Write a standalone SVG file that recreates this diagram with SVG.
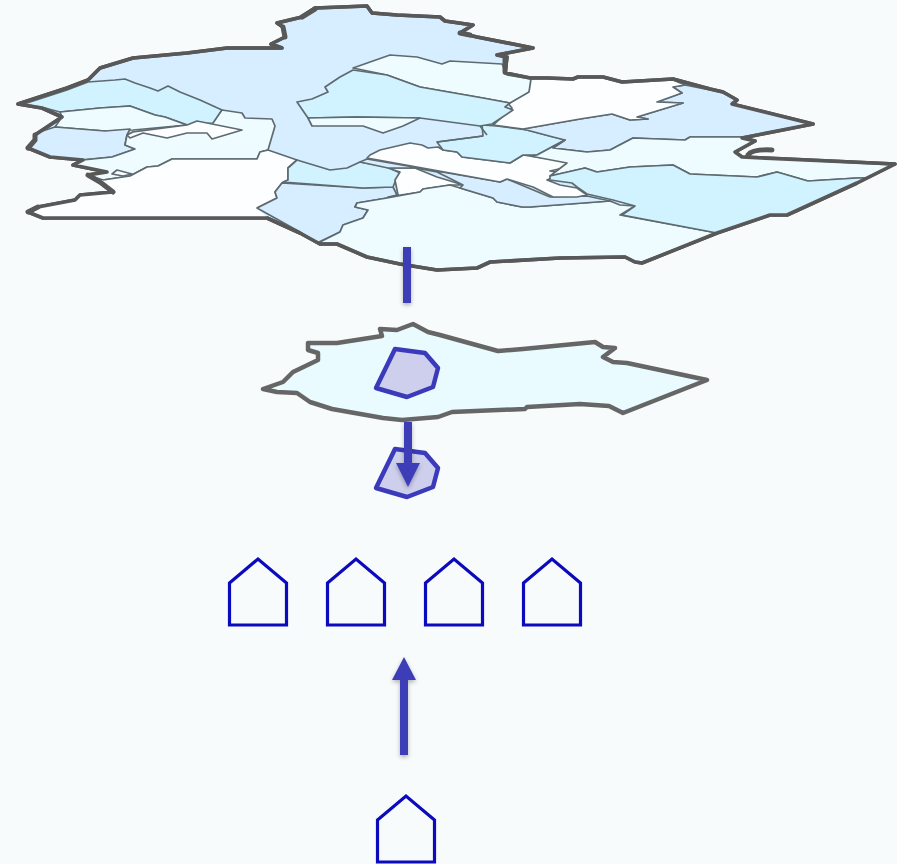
<svg xmlns="http://www.w3.org/2000/svg" width="897" height="864" viewBox="0 0 897 864">
<style>
.o{fill:#d6eeff;stroke:#585858;stroke-width:3.600;stroke-linejoin:round}
.r{stroke:#5e6b70;stroke-width:1.700;stroke-linejoin:round}
.b{fill:#d6eeff}.l{fill:#d0f3ff}.p{fill:#eefcff}.w{fill:#fdfeff}
.t{fill:none;stroke:#585858;stroke-linejoin:round;stroke-linecap:round}
.z{fill:#cdcfec;stroke:#3a3abb;stroke-width:4.500;stroke-linejoin:round}
.h{fill:none;stroke:#0b0bbd;stroke-width:3.200;stroke-linejoin:miter}
.a{fill:#3d3db8;filter:url(#s)}
</style>
<defs>
<filter id="m" x="-2%" y="-2%" width="104%" height="104%"><feGaussianBlur stdDeviation="0.45"/></filter>
<filter id="s" x="-100%" y="-10%" width="300%" height="125%"><feDropShadow dx="0" dy="2" stdDeviation="2" flood-color="#000" flood-opacity="0.3"/></filter>
<path id="house" d="M0 24L28.500 0L57 24V66H0Z"/>
<path id="lot" d="M395 349L425 353L438 368L433 387L407 397L376 388Z"/>
<path id="coast" d="M18 104L67 88L88 80L100 68L133 58L187 53L227 48L282 48L271 44L285 37L283 27L277 23L302 17L315 8L367 6L372 13L397 15L440 17L445 21L473 25L460 33L477 37L533 48L497 55L507 57L505 73L530 78L547 78L573 79L578 77L603 77L622 82L673 79L710 89L723 92L737 100L732 104L813 124L742 138L755 141L735 152L742 157L895 164L857 183L787 215L770 215L717 233L642 263L635 262L625 257L560 258L490 262L477 268L437 270L400 264L367 257L337 244L320 244L300 233L267 218L43 218L28 212L38 207L75 200L80 195L113 192L100 182L88 175L107 172L73 165L83 160L50 157L28 148L35 140L35 135L50 125L62 117L42 108Z"/>
</defs>
<rect width="897" height="864" fill="#f8fbfc"/>
<g id="map" filter="url(#m)">
<use href="#coast" class="o"/>
<path class="r l" d="M88 82L115 80L125 79L135 83L150 88L158 91L168 86L180 92L200 100L222 110L213 124L190 126L165 117L155 115L130 106L100 108L60 112L45 108L24 104L67 90Z"/>
<path class="r p" d="M60 112L100 108L130 106L155 115L165 117L187 125L133 130L105 131L55 127L62 117Z"/>
<path class="r b" d="M55 127L105 131L130 129L127 135L125 145L135 149L112 157L80 160L50 157L30 148L36 140L36 133Z"/>
<path class="r p" d="M213 123L222 110L242 113L245 118L272 119L275 126L268 150L260 152L257 159L172 159L158 166L147 167L130 176L103 180L88 175L107 172L73 165L83 160L112 157L135 149L125 145L127 135L133 132L187 125Z"/>
<path class="r w" d="M127 135L133 132L187 125L197 121L242 130L212 139L207 133L187 133L167 138L143 133L130 138Z"/>
<path class="r w" d="M117 170L132 174L123 176L112 174Z"/>
<path class="w" d="M103 180L130 176L147 167L158 166L172 159L257 159L260 152L268 150L297 160L288 168L288 180L282 183L275 192L277 198L257 208L267 217L43 217L30 212L38 208L75 201L80 196L113 192L100 182Z"/>
<path class="r" fill="none" d="M103 180L130 176L147 167L158 166L172 159L257 159L260 152L268 150L297 160L288 168L288 180L282 183L275 192L277 198L257 208"/>
<path class="r b" d="M257 208L277 198L275 192L282 183L363 188L393 187L397 195L387 198L357 203L355 207L368 210L363 218L343 225L340 232L317 243L300 232Z"/>
<path class="r l" d="M297 160L330 170L347 168L360 162L387 167L400 173L395 182L393 187L363 188L283 182L288 180L288 168Z"/>
<path class="r w" d="M388 168L400 172L395 180L398 195L388 197L420 192L423 189L450 185L463 185L447 180L437 177L415 168Z"/>
<path class="r p" d="M318 243L340 232L343 225L363 218L368 210L355 207L357 203L387 198L420 192L423 189L450 185L460 188L493 198L497 202L522 207L530 207L610 201L620 205L635 206L620 215L717 233L642 262L635 261L625 256L560 257L490 261L477 267L437 269L400 263L367 256L337 243Z"/>
<path class="r b" d="M360 162L367 159L500 182L507 179L550 197L587 196L610 201L530 207L522 207L497 202L493 198L460 188L463 185L437 172L415 168L388 168Z"/>
<path class="r w" d="M367 158L370 155L380 150L410 143L422 145L428 148L438 147L443 150L457 152L462 157L510 163L523 155L557 160L567 163L563 168L550 171L563 173L547 180L560 185L577 188L587 195L577 197L553 197L533 187L507 179L500 182Z"/>
<path class="r l" d="M482 125L497 126L527 130L565 140L537 155L523 155L510 163L462 157L457 152L443 150L437 142L483 136Z"/>
<path class="r b" d="M523 129L580 119L612 114L630 120L648 119L637 117L683 103L657 102L682 93L673 87L685 85L710 90L723 93L737 100L732 104L811 124L742 137L690 137L685 140L633 138L610 150L587 152L553 148L565 140L553 137Z"/>
<path class="r w" d="M530 79L547 79L573 80L578 78L603 78L622 83L673 80L685 85L673 87L682 93L657 102L683 103L637 117L648 119L630 120L612 114L580 119L523 129L493 125L512 108L507 102L528 92Z"/>
<path class="r p" d="M553 148L587 152L610 150L633 138L685 140L690 137L742 137L755 141L735 152L742 157L893 165L866 178L857 178L808 181L777 172L757 177L690 174L673 165L630 167L597 172L585 168L550 176L567 163L530 156L537 155L565 140Z"/>
<path class="r l" d="M550 176L585 168L597 172L630 167L673 165L690 174L757 177L777 172L808 181L857 178L866 178L857 183L787 215L770 215L717 233L622 215L635 206L613 200L587 194L577 187L572 183L550 180Z"/>
<path class="r p" d="M353 68L390 55L417 57L442 64L450 61L502 64L507 75L531 79L529 92L510 103L483 98L420 87L387 75Z"/>
<path class="r l" d="M353 70L387 75L420 87L483 98L510 103L505 107L513 110L492 124L480 126L420 118L357 117L308 118L297 102L312 99L328 92L325 87L340 77Z"/>
<path class="r p" d="M308 118L357 117L420 118L403 126L383 133L363 126L312 126Z"/>
<path class="r" fill="none" d="M480 126L487 135M437 142L483 136"/>
<use href="#coast" class="t" stroke-width="3.600"/>
<path class="t" stroke-width="5" d="M285 37L283 27M505 58L505 72M302 17L315 9M28 148L35 140L35 135M28 212L38 207M88 175L100 182L113 192M460 33L470 35M748 155Q752 149 772 150"/>
</g>
<g id="region">
<path fill="#e9fbff" stroke="#666" stroke-width="4.500" stroke-linejoin="round" d="M263 389L283 382L293 372L318 360L318 353L308 350L308 343L337 343L382 336L380 329L397 330L413 324L428 332L440 335L498 351L523 349L595 342L603 347L615 348L603 357L613 362L627 363L707 380L623 413L609 406L580 404L527 407L525 409L452 412L438 417L402 420L383 418L332 409L310 402L297 393L277 392Z"/>
</g>
<g id="lot-in-region"><use href="#lot" class="z"/></g>
<g id="lot-alone"><use href="#lot" class="z" y="100"/></g>
<g id="houses">
<use id="house-1" href="#house" class="h" x="229.500" y="559"/>
<use id="house-2" href="#house" class="h" x="327.500" y="559"/>
<use id="house-3" href="#house" class="h" x="425.500" y="559"/>
<use id="house-4" href="#house" class="h" x="523.500" y="559"/>
</g>
<g id="house-single"><use href="#house" class="h" x="377.500" y="796"/></g>
<g id="connectors">
<rect class="a" x="403" y="247" width="8" height="56"/>
<path class="a" d="M404 422H412V463H420L408 487L396 463H404Z"/>
<path class="a" d="M400 755V680H392L404 657L416 680H408V755Z"/>
</g>
</svg>
